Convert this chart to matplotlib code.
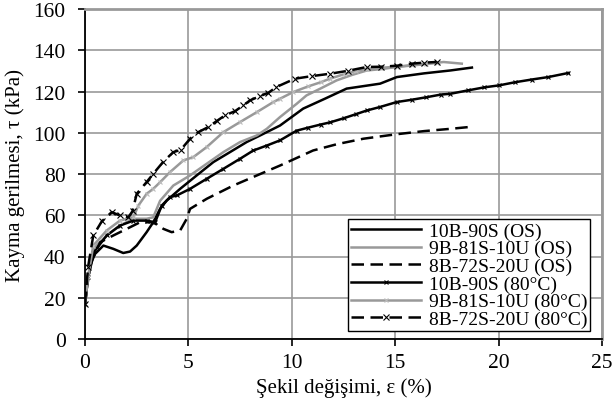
import matplotlib
matplotlib.use("Agg")
import matplotlib.pyplot as plt

# 10B-90S (OS) - black solid
x_10b_os = [0, 0.15, 0.4, 0.89, 1.37, 1.85, 2.18, 2.5, 2.98, 3.3, 3.63, 3.95, 4.6, 5.4,
            6.21, 7.01, 7.82, 8.47, 9.43, 10.55, 11.6, 12.65, 14.27, 15.08, 16.4, 17.67, 18.71]
y_10b_os = [17, 30, 40.4, 45.3, 43.7, 41.7, 42.4, 45.3, 51.8, 56.6, 63.1, 67.1, 72.8, 79.3,
            85.8, 90.6, 95.5, 98.7, 103.5, 111.7, 116.5, 121.4, 123.8, 127, 128.8, 130.2, 131.6]

# 9B-81S-10U (OS) - gray solid
x_9b_os = [0, 0.15, 0.4, 1.05, 1.69, 2.34, 2.98, 3.3, 3.63, 4.27, 5.08, 5.89, 6.69, 7.5,
           8.31, 8.79, 9.43, 10.23, 10.71, 11.4, 12.17, 12.9, 13.63, 14.27, 15.08, 16.2, 17.34, 18.22]
y_9b_os = [17, 30, 43.7, 50.2, 55, 58.3, 58.3, 59, 67, 74.4, 79.3, 85, 90.6, 95.5,
           98.7, 101.9, 107.6, 114, 118.1, 121.5, 125.4, 128, 130.2, 130.8, 131.9, 133, 134.3, 133.5]

# 8B-72S-20U (OS) - black dashed
x_8b_os = [0, 0.24, 0.73, 1.37, 2.02, 2.66, 3.3, 3.79, 4.19, 4.6, 4.92, 5.08, 5.89, 7.17,
           8.31, 9.43, 11.03, 12.2, 13.46, 15.0, 16.4, 17.67, 18.8]
y_8b_os = [17, 35.6, 46.9, 50.2, 53.4, 56.6, 56.6, 53.4, 51.8, 52.6, 58.3, 63.1, 68, 74.4,
           79.3, 84.1, 91.4, 94.5, 97.1, 99.2, 100.8, 101.9, 103]

# 10B-90S (80°C) - black solid with markers
x_10b_80 = [0, 0.15, 0.4, 1.05, 1.69, 2.34, 2.98, 3.39, 3.71, 4.11, 4.44, 5.08, 5.89, 6.69,
            7.5, 8.14, 8.79, 9.43, 10.23, 10.8, 11.4, 11.84, 12.5, 13.1, 13.63, 14.27,
            15.08, 15.8, 16.5, 17.2, 17.67, 18.5, 19.3, 20.04, 20.8, 21.6, 22.4, 23.38]
y_10b_80 = [17, 30, 41.7, 50.2, 55, 57.4, 57.4, 56.6, 64.7, 68.8, 69.6, 72.8, 77.7, 82.5,
            87.4, 91.4, 93.8, 96.3, 101, 102.5, 104, 105, 107, 109, 110.8, 112.5,
            114.9, 116, 117.2, 118.5, 118.9, 120.5, 122, 123, 124.5, 125.8, 127, 129]

# 9B-81S-10U (80°C) - gray solid with markers
x_9b_80 = [0, 0.15, 0.4, 1.05, 1.69, 2.34, 2.58, 2.98, 3.3, 3.63, 4.11, 4.76, 5.24, 5.89,
           6.69, 7.5, 8.31, 9.11, 9.43, 10.06, 10.8, 11.4, 11.84, 12.5, 13.1, 13.63,
           14.3, 15.08, 15.8, 16.5, 17.0]
y_9b_80 = [17, 30, 45.3, 52.6, 57.4, 59.1, 64.7, 70.4, 72.8, 76, 80.9, 86.6, 88.2, 93.1,
           100.3, 105.2, 110, 114.9, 116.5, 119.7, 122.5, 124.5, 126.2, 128.3, 130, 131,
           131.5, 132, 132.8, 133.5, 134]

# 8B-72S-20U (80°C) - black dashed with markers
x_8b_80 = [0, 0.15, 0.4, 0.81, 1.29, 1.69, 2.1, 2.3, 2.5, 2.98, 3.3, 3.79, 4.27, 4.63,
           5.08, 5.48, 5.97, 6.37, 6.77, 7.26, 7.66, 7.98, 8.47, 8.87, 9.26, 10.15, 11.0,
           11.84, 12.7, 13.63, 14.3, 15.08, 15.8, 16.4, 17.0]
y_8b_80 = [17, 35, 50.2, 57, 61.5, 59.9, 59.1, 62, 70.4, 76.1, 80.1, 86, 90.6, 91.7,
           97.1, 100.3, 102.8, 105.7, 108.4, 110.5, 113.3, 115.7, 117.8, 119.4, 122.2, 126.2, 127.5,
           128.6, 130, 131.9, 132, 132.5, 133.5, 134, 134.3]

labels = ["10B-90S (OS)", "9B-81S-10U (OS)", "8B-72S-20U (OS)",
          "10B-90S (80°C)", "9B-81S-10U (80°C)", "8B-72S-20U (80°C)"]

plt.rcParams["font.family"] = ["Liberation Serif", "DejaVu Serif"]
plt.rcParams["font.size"] = 14

GRAY = "#999999"
fig = plt.figure(figsize=(6.13, 4.14), dpi=100)
ax = fig.add_axes([85 / 613, 1 - 340 / 414, 517 / 613, 330 / 414])

lw = 1.8
dash = (0, (5, 2.6))
ax.plot(x_10b_os, y_10b_os, color="black", lw=lw, label=labels[0])
ax.plot(x_9b_os, y_9b_os, color=GRAY, lw=lw, label=labels[1])
ax.plot(x_8b_os, y_8b_os, color="black", lw=lw, ls=dash, label=labels[2])
ax.plot(x_10b_80, y_10b_80, color="black", lw=lw, marker="x", ms=3, mew=0.8, label=labels[3])
ax.plot(x_9b_80, y_9b_80, color=GRAY, lw=lw, marker="x", ms=3, mew=0.8, mec="#bbbbbb", label=labels[4])
ax.plot(x_8b_80, y_8b_80, color="black", lw=lw, ls=dash, marker="x", ms=4, mew=0.8, label=labels[5])

ax.set_xlim(0, 25)
ax.set_ylim(0, 160)
ax.set_xticks(range(0, 26, 5))
ax.set_yticks(range(0, 161, 20))
ax.grid(True, color=GRAY, lw=1.2)
ax.set_axisbelow(True)
for side in ("top", "right"):
    ax.spines[side].set_color(GRAY)
    ax.spines[side].set_linewidth(2)
for side in ("left", "bottom"):
    ax.spines[side].set_linewidth(1.3)
ax.tick_params(direction="out", length=5, width=1.2, color="black", labelsize=15.5)
ax.tick_params(axis="x", pad=5)
ax.tick_params(axis="y", pad=9)

ax.set_xlabel("Şekil değişimi, ε (%)", fontsize=15, labelpad=4)
ax.set_ylabel("Kayma gerilmesi, τ (kPa)", fontsize=15, labelpad=6)

leg = ax.legend(loc="lower right", bbox_to_anchor=(590 / 613, 1 - 332 / 414),
                bbox_transform=fig.transFigure, frameon=True, fancybox=False,
                edgecolor="black", framealpha=1, labelspacing=0.0, handlelength=3.6,
                borderpad=0.15, handletextpad=0.4, borderaxespad=0)
leg.get_frame().set_linewidth(1.0)

fig.savefig("out.png", dpi=100)
